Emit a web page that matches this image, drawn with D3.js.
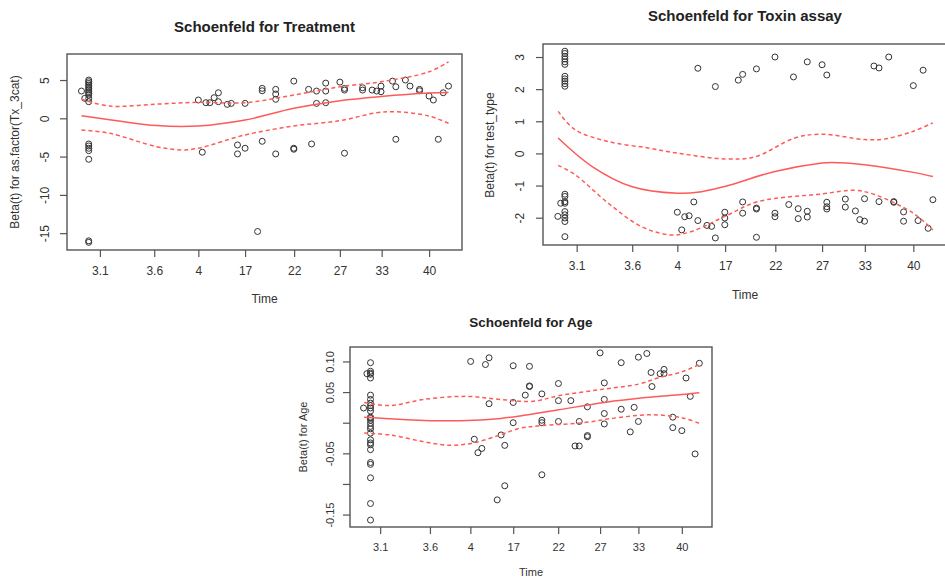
<!DOCTYPE html>
<html>
<head>
<meta charset="utf-8">
<script src="https://cdn.jsdelivr.net/npm/d3@7"></script>
<style>
  body { margin: 0; background: #fff; }
  svg { display: block; font-family: "Liberation Sans", Arial, sans-serif; }
</style>
</head>
<body>
<svg width="945" height="577"></svg>
<script>
// transformed time axis (km scale), 3.1 -> 0, 40 -> 100
var timeTicks = [0, 16.5, 29.9, 44.1, 59.0, 72.9, 85.6, 100];
var timeLabels = ["3.1", "3.6", "4", "17", "22", "27", "33", "40"];

// ---- Treatment ----
var txTicks = [-15, -10, -5, 0, 5];
var txTickLabels = ["-15", "-10", "-5", "0", "5"];
var txPoints = [
  [-5.6, 3.56], [-4.6, 2.61],
  [-3.4, 5.0], [-3.4, 4.78], [-3.4, 4.56], [-3.4, 4.34], [-3.4, 4.12], [-3.4, 3.91],
  [-3.4, 3.69], [-3.4, 3.47], [-3.4, 3.26], [-3.4, 3.04], [-3.4, 2.61], [-3.4, 2.17],
  [-3.4, -3.35], [-3.4, -3.61], [-3.4, -3.91], [-3.4, -4.22], [-3.4, -5.35],
  [-3.4, -16.0], [-3.4, -16.2],
  [29.9, 2.39], [31.1, -4.43], [32.2, 2.04], [33.4, 2.04], [34.7, 2.69], [36.0, 3.34],
  [36.0, 2.17], [38.7, 1.82], [39.9, 1.95], [41.8, -3.48], [41.8, -4.65], [44.1, 1.95],
  [44.1, -3.91], [47.9, -14.78], [49.3, 3.91], [49.3, 3.6], [49.3, -3.0], [53.4, 3.78],
  [53.4, 3.17], [53.4, 2.48], [53.4, -4.65], [58.9, 4.86], [58.9, -3.91], [58.9, -4.04],
  [63.4, 3.78], [64.3, -3.35], [65.8, 3.56], [65.8, 1.95], [68.6, 4.6], [68.6, 3.56],
  [68.6, 2.04], [72.9, 4.73], [74.3, 3.91], [74.3, 3.69], [74.3, -4.56], [79.8, 3.99],
  [79.8, 3.69], [82.7, 3.69], [84.1, 3.56], [85.4, 4.21], [85.4, 3.47], [88.9, 4.86],
  [89.9, 4.12], [89.9, -2.74], [92.8, 5.0], [94.2, 4.21], [97.1, 3.78], [97.1, 3.6],
  [100, 2.91], [101.3, 2.39], [102.8, -2.74], [104.3, 3.34], [105.9, 4.21]
];
var txFit = [[-5.6, 0.34], [5.1, -0.31], [17.2, -0.95], [29.9, -1.0], [44.1, -0.22],
  [58.9, 1.3], [72.9, 2.3], [85.4, 2.85], [100, 3.3], [105.9, 3.38]];
var txUpper = [[-5.6, 2.48], [3.0, 1.6], [17.2, 1.85], [29.9, 2.1], [44.1, 2.04],
  [58.9, 3.04], [72.9, 4.12], [85.4, 4.77], [100, 6.08], [105.9, 7.38]];
var txLower = [[-5.6, -1.52], [3.0, -1.96], [17.2, -3.7], [24.8, -4.13], [29.9, -3.91],
  [44.1, -2.17], [58.9, -1.0], [72.9, -0.31], [84.1, 0.73], [89.9, 0.86], [100, 0.3], [105.9, -0.65]];

// ---- Toxin assay ----
var toxTicks = [-2, -1, 0, 1, 2, 3];
var toxTickLabels = ["-2", "-1", "0", "1", "2", "3"];
var toxPoints = [
  [-5.6, -1.96], [-4.75, -1.55],
  [-3.5, 3.18], [-3.5, 3.11], [-3.5, 3.02], [-3.5, 2.94], [-3.5, 2.85], [-3.5, 2.77],
  [-3.5, 2.4], [-3.5, 2.32], [-3.5, 2.25], [-3.5, 2.17], [-3.5, 2.09],
  [-3.5, -1.27], [-3.5, -1.34], [-3.5, -1.5], [-3.5, -1.55], [-3.5, -1.81], [-3.5, -1.91],
  [-3.5, -2.01], [-3.5, -2.12], [-3.5, -2.59],
  [29.9, -1.83], [31.2, -2.38], [32.1, -1.97], [33.4, -1.94], [34.8, -1.51], [36.0, 2.65],
  [36.0, -2.09], [38.7, -2.24], [40.1, -2.27], [41.2, 2.08], [41.2, -2.63], [44.0, -1.83],
  [44.0, -2.01], [44.0, -2.22], [48.0, 2.28], [49.3, 2.46], [49.3, -1.51], [49.3, -1.86],
  [53.4, 2.63], [53.4, -1.7], [53.4, -1.73], [53.4, -2.61], [58.9, 3.0], [58.9, -1.86],
  [58.9, -1.97], [63.0, -1.59], [64.4, 2.38], [65.8, -1.72], [65.8, -2.03], [68.5, 2.85],
  [68.5, -1.8], [68.5, -1.98], [72.9, 2.76], [74.3, 2.44], [74.3, -1.52], [74.3, -1.66],
  [74.3, -1.73], [79.8, -1.42], [79.8, -1.67], [82.8, -1.79], [84.1, -2.06], [85.5, -1.41],
  [85.5, -2.11], [88.3, 2.72], [89.8, 2.66], [89.8, -1.5], [92.7, 3.0], [94.2, -1.5],
  [94.2, -1.52], [97.1, -1.82], [97.1, -2.11], [100, 2.11], [101.4, -2.09], [102.9, 2.59],
  [104.4, -2.33], [105.8, -1.44]
];
var toxFit = [[-5.5, 0.48], [4.5, -0.4], [16.3, -1.03], [29.9, -1.24], [37.1, -1.19],
  [44.0, -1.03], [58.9, -0.56], [72.9, -0.3], [75.7, -0.28], [85.5, -0.35], [100, -0.59], [105.8, -0.72]];
var toxUpper = [[-5.5, 1.31], [-0.5, 0.74], [9.4, 0.37], [21.2, 0.17], [29.9, 0.01],
  [44.0, -0.17], [52.9, -0.11], [64.8, 0.48], [72.9, 0.6], [85.5, 0.43], [91.5, 0.45],
  [100, 0.69], [105.8, 0.95]];
var toxLower = [[-5.5, -0.37], [-0.5, -0.66], [9.4, -1.55], [19.3, -2.28], [28.2, -2.54],
  [34.1, -2.43], [44.0, -1.96], [53.9, -1.5], [72.9, -1.26], [82.6, -1.15], [88.5, -1.28],
  [100, -1.86], [105.8, -2.38]];

// ---- Age ----
var ageTicks = [-0.15, -0.10, -0.05, 0, 0.05, 0.10];
var ageTickLabels = ["-0.15", "", "-0.05", "", "0.05", "0.10"];
var agePoints = [
  [-5.5, 0.024], [-4.4, 0.08],
  [-3.2, 0.098], [-3.2, 0.084], [-3.2, 0.081], [-3.2, 0.079], [-3.2, 0.073], [-3.2, 0.045],
  [-3.2, 0.038], [-3.2, 0.032], [-3.2, 0.028], [-3.2, 0.024], [-3.2, 0.019], [-3.2, 0.009],
  [-3.2, 0.007], [-3.2, 0.004], [-3.2, -0.001], [-3.2, -0.006], [-3.2, -0.01], [-3.2, -0.017],
  [-3.2, -0.028], [-3.2, -0.033], [-3.2, -0.036], [-3.2, -0.044], [-3.2, -0.065],
  [-3.2, -0.068], [-3.2, -0.09], [-3.2, -0.132], [-3.2, -0.159],
  [30.0, 0.1], [31.2, -0.027], [32.4, -0.049], [33.7, -0.042], [34.9, 0.095], [36.1, 0.106],
  [36.1, 0.031], [38.8, -0.126], [40.1, -0.02], [41.3, -0.037], [41.3, -0.103], [44.1, 0.093],
  [44.1, 0.033], [44.1, 0.0], [48.1, 0.045], [49.5, 0.092], [49.5, 0.06], [49.5, 0.059],
  [53.6, 0.047], [53.6, 0.004], [53.6, 0.0], [53.6, -0.085], [59.1, 0.064], [59.1, 0.036],
  [59.1, 0.002], [63.2, 0.036], [64.6, -0.038], [66.0, -0.038], [66.0, 0.002], [68.7, 0.026],
  [68.7, -0.021], [68.7, -0.023], [72.9, 0.114], [74.3, 0.065], [74.3, 0.038], [74.3, 0.015],
  [74.3, -0.002], [79.9, 0.098], [79.9, 0.022], [82.9, -0.015], [84.2, 0.025], [85.6, 0.107],
  [85.6, 0.002], [88.4, 0.113], [89.8, 0.082], [90.1, 0.059], [92.8, 0.08], [94.1, 0.087],
  [94.1, 0.08], [97.0, 0.009], [97.0, -0.008], [100, -0.013], [101.4, 0.073], [102.8, 0.043],
  [104.4, -0.051], [105.8, 0.097]
];
var ageFit = [[-5.3, 0.009], [8.8, 0.005], [22.0, 0.003], [31.0, 0.004], [40.0, 0.007],
  [46.4, 0.011], [59.1, 0.021], [74.3, 0.033], [88.0, 0.041], [100, 0.046], [105.8, 0.049]];
var ageUpper = [[-5.3, 0.033], [3.3, 0.028], [14.4, 0.038], [28.7, 0.043], [39.8, 0.038],
  [50.8, 0.035], [59.1, 0.044], [72.9, 0.054], [85.6, 0.063], [92.8, 0.074], [100, 0.083], [105.8, 0.095]];
var ageLower = [[-5.3, -0.017], [3.3, -0.02], [14.4, -0.031], [23.2, -0.037], [30.9, -0.033],
  [39.8, -0.02], [46.4, -0.009], [53.0, -0.005], [67.4, 0.0], [78.4, 0.008], [89.5, 0.013],
  [100, 0.008], [105.8, -0.001]];

var svg = d3.select("svg");
var lineCol = "#ff5a5a";

function drawPanel(p) {
  var x = d3.scaleLinear().domain([-10, 110]).range([p.x0, p.x1]);
  var y = d3.scaleLinear().domain(p.yDomain).range([p.y1, p.y0]);
  var g = svg.append("g");
  var fs = p.fs;

  // title
  g.append("text").attr("x", (p.x0 + p.x1) / 2).attr("y", p.titleY)
    .attr("text-anchor", "middle").attr("dy", "0.35em")
    .attr("font-weight", "bold").attr("font-size", p.titleFs).attr("fill", "#222")
    .text(p.title);

  // frame
  g.append("rect").attr("x", p.x0).attr("y", p.y0)
    .attr("width", p.x1 - p.x0).attr("height", p.y1 - p.y0)
    .attr("fill", "none").attr("stroke", "#555").attr("stroke-width", 1.4);

  // x axis
  var xa = g.append("g").attr("transform", "translate(0," + p.y1 + ")")
    .call(d3.axisBottom(x).tickValues(p.xTicks)
      .tickFormat(function(d, i) { return p.xLabels[i]; })
      .tickSize(7).tickPadding(9));
  xa.select(".domain").remove();
  xa.selectAll("line").attr("stroke", "#555").attr("stroke-width", 1.2);
  xa.selectAll("text").attr("font-size", fs).attr("fill", "#333")
    .attr("font-family", "Liberation Sans, Arial, sans-serif");

  // y axis with rotated labels
  var ya = g.append("g").attr("transform", "translate(" + p.x0 + ",0)")
    .call(d3.axisLeft(y).tickValues(p.yTicks)
      .tickFormat(function(d, i) { return p.yLabels[i]; })
      .tickSize(7));
  ya.select(".domain").remove();
  ya.selectAll("line").attr("stroke", "#555").attr("stroke-width", 1.2);
  ya.selectAll("text")
    .attr("x", 0).attr("dy", null)
    .attr("transform", function() {
      return "translate(" + (p.yLabX - p.x0) + ",0) rotate(-90)";
    })
    .attr("y", 0).attr("dy", "0.35em")
    .attr("text-anchor", "middle").attr("font-size", fs).attr("fill", "#333")
    .attr("font-family", "Liberation Sans, Arial, sans-serif");

  // axis titles
  g.append("text").attr("x", (p.x0 + p.x1) / 2).attr("y", p.timeY)
    .attr("text-anchor", "middle").attr("dy", "0.35em")
    .attr("font-size", p.labFs).attr("fill", "#333").text("Time");
  g.append("text")
    .attr("transform", "translate(" + p.yTitleX + "," + p.yTitleY + ") rotate(-90)")
    .attr("text-anchor", "middle").attr("dy", "0.35em")
    .attr("font-size", p.labFs).attr("fill", "#333").text(p.yTitle);

  // points
  g.selectAll("circle.pt").data(p.points).enter().append("circle")
    .attr("class", "pt")
    .attr("cx", function(d) { return x(d[0]); })
    .attr("cy", function(d) { return y(d[1]); })
    .attr("r", 3)
    .attr("fill", "none").attr("stroke", "#333").attr("stroke-width", 1);

  // smooth fit and confidence band
  var line = d3.line()
    .x(function(d) { return x(d[0]); })
    .y(function(d) { return y(d[1]); })
    .curve(d3.curveCatmullRom.alpha(0.5));
  g.append("path").attr("d", line(p.fit)).attr("fill", "none")
    .attr("stroke", lineCol).attr("stroke-width", 1.5);
  [p.upper, p.lower].forEach(function(band) {
    g.append("path").attr("d", line(band)).attr("fill", "none")
      .attr("stroke", lineCol).attr("stroke-width", 1.5)
      .attr("stroke-dasharray", "4,3");
  });
}

drawPanel({
  title: "Schoenfeld for Treatment", yTitle: "Beta(t) for as.factor(Tx_3cat)",
  x0: 67, x1: 462, y0: 54, y1: 250, yDomain: [-17.2, 8.4],
  yTicks: txTicks, yLabels: txTickLabels, xTicks: timeTicks, xLabels: timeLabels,
  points: txPoints, fit: txFit, upper: txUpper, lower: txLower,
  titleY: 27, titleFs: 15, fs: 12, labFs: 12, yLabX: 45, timeY: 299, yTitleX: 15, yTitleY: 152
});

drawPanel({
  title: "Schoenfeld for Toxin assay", yTitle: "Beta(t) for test_type",
  x0: 543, x1: 947, y0: 44, y1: 245, yDomain: [-2.85, 3.405],
  yTicks: toxTicks, yLabels: toxTickLabels, xTicks: timeTicks, xLabels: timeLabels,
  points: toxPoints, fit: toxFit, upper: toxUpper, lower: toxLower,
  titleY: 16, titleFs: 15, fs: 12, labFs: 12, yLabX: 520, timeY: 295, yTitleX: 490, yTitleY: 145
});

drawPanel({
  title: "Schoenfeld for Age", yTitle: "Beta(t) for Age",
  x0: 350, x1: 712, y0: 347, y1: 527, yDomain: [-0.1703, 0.1236],
  yTicks: ageTicks, yLabels: ageTickLabels, xTicks: timeTicks, xLabels: timeLabels,
  points: agePoints, fit: ageFit, upper: ageUpper, lower: ageLower,
  titleY: 322, titleFs: 13.5, fs: 11, labFs: 11, yLabX: 330, timeY: 572, yTitleX: 303, yTitleY: 437
});
</script>
</body>
</html>
